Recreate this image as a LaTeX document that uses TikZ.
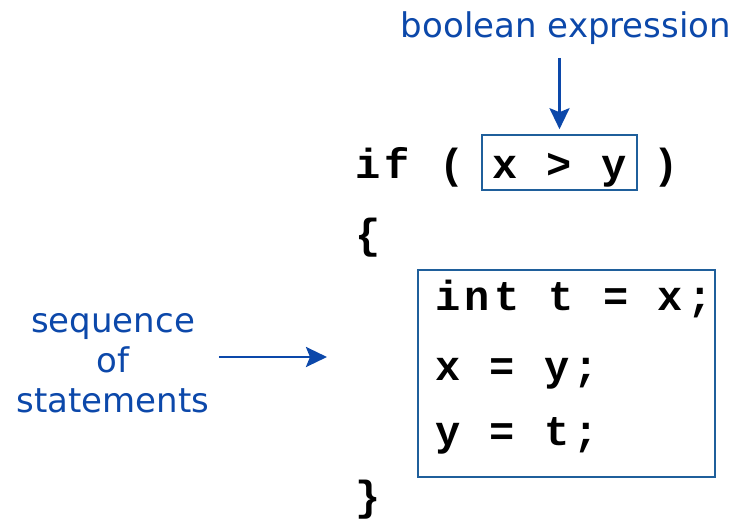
\documentclass[tikz,border=0pt]{standalone}
\usepackage{fontspec}
\setmainfont{DejaVu Sans}
\newfontfamily\codefont[LetterSpace=10]{Liberation Mono}
\usetikzlibrary{positioning,arrows.meta}
\definecolor{labelblue}{RGB}{12,72,170}
\definecolor{boxblue}{RGB}{31,95,155}
\tikzset{
  code/.style={font=\codefont\bfseries\fontsize{42}{50}\selectfont, inner sep=0pt, anchor=base west},
  lbl/.style={font=\fontsize{34}{40}\selectfont, text=labelblue, align=center},
  codebox/.style={draw=boxblue, line width=1.6pt},
  arr/.style={-{Stealth[length=21pt,width=20pt,inset=4pt]}, draw=labelblue, fill=labelblue, line width=2.8pt}
}

\begin{document}
\begin{tikzpicture}[x=1pt, y=-1pt]
    \useasboundingbox (0,0) rectangle (733,519);
    % condition
    \node[code] (iff) at (355,178) {if (};
    \node[codebox, code, anchor=base, minimum width=155pt, text height=43pt, text depth=12pt] (xy) at (559.5,178) {x > y};
    \node[code] (close) at (653,178) {)};
    \node[code] (open) at (355,248) {\{};
    % body
    \node[codebox, minimum width=297pt, minimum height=207pt] (body) at (566.5,373.5) {};
    \node[code] (l1) at (435,310) {int t = x;};
    \node[code] (l2) at (435,380) {x = y;};
    \node[code] (l3) at (435,445) {y = t;};
    \node[code] (shut) at (355,510) {\}};
    % labels
    \node[lbl] (bool) at (566,28) {boolean expression};
    \node[lbl] (seq) at (113,363) {sequence\\of\\statements};
    \coordinate (tip) at (327,357);
    \draw[arr] ([yshift=-10pt]bool.south -| xy.north) -- ([yshift=5pt]xy.north);
    \draw[arr] ([xshift=6pt]seq.east |- tip) -- (tip);
\end{tikzpicture}
\end{document}
